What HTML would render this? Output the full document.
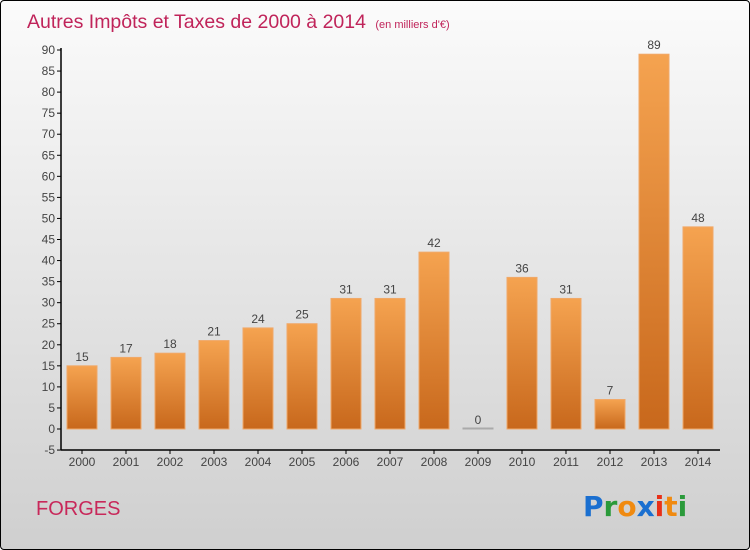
<!DOCTYPE html>
<html><head><meta charset="utf-8"><style>
html,body{margin:0;padding:0;}
body{width:750px;height:550px;overflow:hidden;font-family:"Liberation Sans",sans-serif;}
#wrap{position:absolute;left:0;top:0;width:748px;height:548px;border:1px solid #000;border-radius:4px;background:linear-gradient(#fbfbfb,#cfcfcf);}
</style></head><body>
<div id="wrap">
<svg id="chart" width="750" height="550" style="position:absolute;left:-1px;top:-1px">
<defs><linearGradient id="bg" x1="0" y1="0" x2="0" y2="1"><stop offset="0" stop-color="#f5a350"/><stop offset="1" stop-color="#c8681c"/></linearGradient></defs>
<text x="27" y="28" font-size="19.5" fill="#c0245a">Autres Impôts et Taxes de 2000 à 2014 <tspan font-size="11" dx="4">(en milliers d'€)</tspan></text>
<text x="36" y="515" font-size="20" fill="#c8285a">FORGES</text>
<g font-size="28" font-weight="bold" font-family="'DejaVu Sans',sans-serif">
<text x="583" y="516"><tspan fill="#1a6fd0">P</tspan><tspan fill="#2a9a3a">r</tspan><tspan fill="#f08a10">o</tspan><tspan fill="#1a6fd0">x</tspan><tspan fill="#e83018">i</tspan><tspan fill="#f08a10">t</tspan><tspan fill="#2a9a3a">i</tspan></text></g>
<g id="plot"></g>
</svg></div>
<script>
const categories=["2000","2001","2002","2003","2004","2005","2006","2007","2008","2009","2010","2011","2012","2013","2014"];
const values=[15,17,18,21,24,25,31,31,42,0,36,31,7,89,48];
const yTicks=[-5,0,5,10,15,20,25,30,35,40,45,50,55,60,65,70,75,80,85,90];
const NS="http://www.w3.org/2000/svg";
const g=document.getElementById('plot');
function y(v){return 429-(v)*(379/90);}
function x(i){return 82+i*44;}
function mk(t,a){const e=document.createElementNS(NS,t);for(const k in a)e.setAttribute(k,a[k]);g.appendChild(e);return e;}
let ax=mk('line',{x1:61,y1:y(90)-2,x2:61,y2:y(-5),stroke:'#000','stroke-width':1.5});


let bx=mk('line',{x1:61,y1:y(-5),x2:720,y2:y(-5),stroke:'#000','stroke-width':1.5});


yTicks.forEach(v=>{
 mk('line',{x1:57,y1:y(v),x2:61,y2:y(v),stroke:'#000'});
 const t=mk('text',{x:55,y:y(v)+4,'text-anchor':'end','font-size':12,fill:'#444'});
 t.textContent=v;
 
 
});
categories.forEach((c,i)=>{
 mk('line',{x1:x(i),y1:y(-5),x2:x(i),y2:y(-5)+4,stroke:'#000'});
 const t=mk('text',{x:x(i),y:466,'text-anchor':'middle','font-size':12,fill:'#444'});
 t.textContent=c;
 
 
 const v=values[i];
 const h=Math.max(y(0)-y(v),1);
 const r=mk('rect',{x:x(i)-15,y:y(0)-h,width:30,height:h,fill:v>0?'url(#bg)':'#bbb',stroke:v>0?'#f0a868':'#aaa','stroke-width':1});
 
 
 const l=mk('text',{x:x(i),y:y(v)-5,'text-anchor':'middle','font-size':12,fill:'#444'});
 l.textContent=v;
 
 
});
</script>
</body></html>
